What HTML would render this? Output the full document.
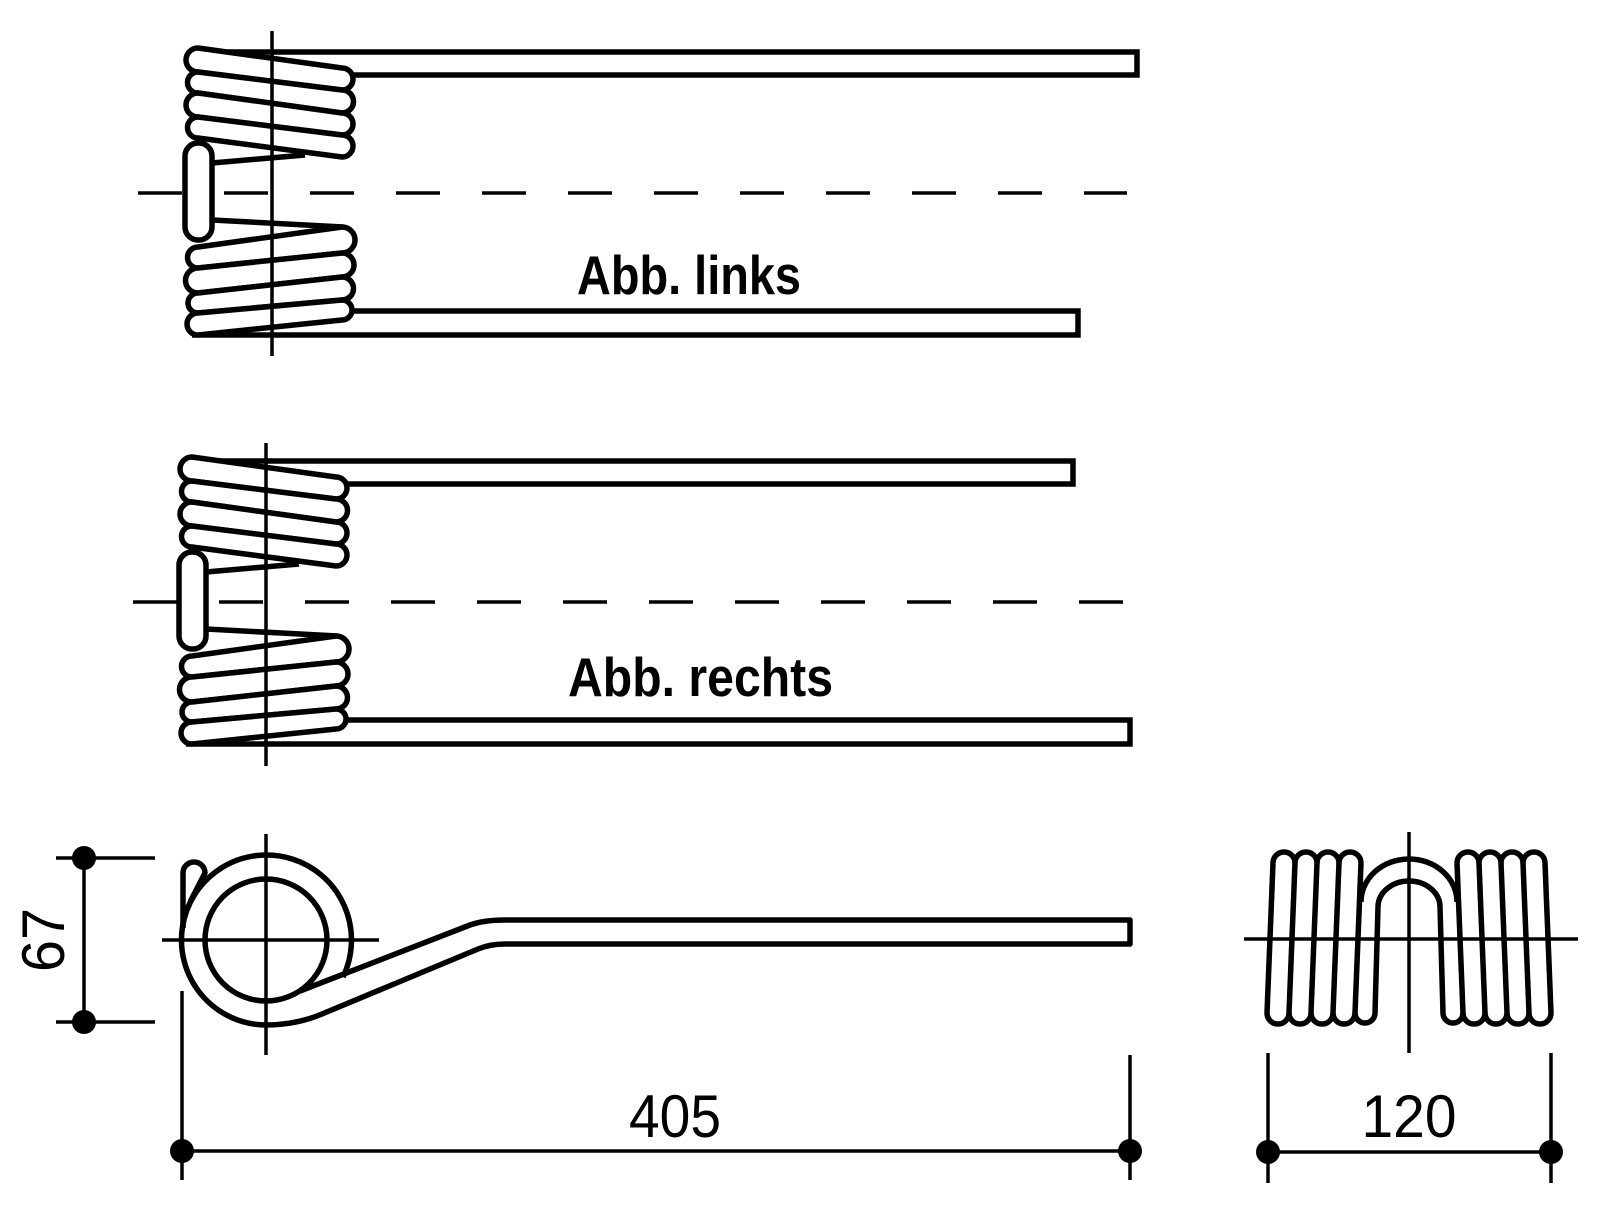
<!DOCTYPE html>
<html><head><meta charset="utf-8"><style>html,body{margin:0;padding:0;background:#fff}svg{display:block}</style></head>
<body>
<svg width="1601" height="1206" viewBox="0 0 1601 1206" xmlns="http://www.w3.org/2000/svg">
<defs>
<g id="coil" fill="#fff" stroke="#000" stroke-width="5.5" stroke-linejoin="round">
  <path d="M198,48 L342,68 A11,11 0 0 1 342,90 L198,72 A12,12 0 0 1 198,48 Z"/>
  <path d="M198,72 L342,90 A11.5,11.5 0 0 1 342,113 L198,93 A10.5,10.5 0 0 1 198,72 Z"/>
  <path d="M198,93 L342,113 A11,11 0 0 1 342,135 L198,117 A12,12 0 0 1 198,93 Z"/>
  <path d="M198,117 L342,135 A11,11 0 0 1 342,157 L198,138 A10.5,10.5 0 0 1 198,117 Z"/>
  <rect x="185" y="143" width="27" height="97" rx="13" ry="13"/>
  <path d="M212,163 L305,155" fill="none"/>
  <path d="M212,220 L343,227" fill="none"/>
  <path d="M198,247 L342,227 A13,13 0 0 1 342,253 L198,268 A10.5,10.5 0 0 1 198,247 Z"/>
  <path d="M198,268 L342,253 A12,12 0 0 1 342,277 L198,293 A12.5,12.5 0 0 1 198,268 Z"/>
  <path d="M198,293 L342,277 A11.5,11.5 0 0 1 342,300 L198,313 A10,10 0 0 1 198,293 Z"/>
  <path d="M198,313 L342,300 A10,10 0 0 1 342,320 L198,335 A11,11 0 0 1 198,313 Z"/>
</g>
<g id="half" fill="none" stroke="#000" stroke-width="5.5" stroke-linejoin="round">
  <path d="M1273,863 A11,11 0 0 1 1295,863 A11,11 0 0 1 1317,863 A11,11 0 0 1 1339,863 A11,11 0 0 1 1361,863" fill="#fff"/>
  <path d="M1273,863 L1267,1013 M1295,863 L1289,1013 M1317,863 L1311,1013 M1339,863 L1333,1013 M1361,863 L1355,1013 M1378,907 L1375,1013"/>
  <path d="M1267,1013 A11,11 0 0 0 1289,1013 A11,11 0 0 0 1311,1013 A11,11 0 0 0 1333,1013 A11,11 0 0 0 1355,1013 A10,10 0 0 0 1375,1013"/>
</g>
</defs>

<!-- TOP VIEW (links) -->
<line x1="138" y1="193" x2="1127" y2="193" stroke="#000" stroke-width="3.5" stroke-dasharray="44 42"/>
<path d="M192,52 L1137,52 L1137,75 L353,75" fill="none" stroke="#000" stroke-width="5.5"/>
<path d="M353,311 L1078,311 L1078,335 L192,335" fill="none" stroke="#000" stroke-width="5.5"/>
<use href="#coil"/>
<line x1="272" y1="31" x2="272" y2="356" stroke="#000" stroke-width="3.5"/>
<text x="577" y="294" font-family="Liberation Sans, sans-serif" font-weight="bold" font-size="55" textLength="224" lengthAdjust="spacingAndGlyphs">Abb. links</text>

<!-- MIDDLE VIEW (rechts) -->
<line x1="133" y1="602" x2="1142" y2="602" stroke="#000" stroke-width="3.5" stroke-dasharray="44 42"/>
<path d="M186,461 L1073,461 L1073,484 L347,484" fill="none" stroke="#000" stroke-width="5.5"/>
<path d="M347,720 L1130,720 L1130,744 L186,744" fill="none" stroke="#000" stroke-width="5.5"/>
<use href="#coil" transform="translate(-6,409)"/>
<line x1="266" y1="443" x2="266" y2="766" stroke="#000" stroke-width="3.5"/>
<text x="568" y="696" font-family="Liberation Sans, sans-serif" font-weight="bold" font-size="55" textLength="265" lengthAdjust="spacingAndGlyphs">Abb. rechts</text>

<!-- SIDE VIEW -->
<g fill="none" stroke="#000" stroke-width="5.5" stroke-linejoin="round">
  <path d="M266,1025 A85,85 0 1 1 343,977"/>
  <circle cx="266" cy="940" r="61"/>
  <path d="M300,991 L470,925 Q484,920 505,920 L1130,920 L1130,944 L505,944 Q490,944 478,949 L322,1014 Q296,1025 266,1025"/>
  <path d="M183,928 L183,873 A11,11 0 0 1 205,873 L190,902"/>
</g>
<line x1="162" y1="940" x2="379" y2="940" stroke="#000" stroke-width="3.5"/>
<line x1="266" y1="834" x2="266" y2="1055" stroke="#000" stroke-width="3.5"/>

<!-- dimension 67 -->
<g stroke="#000" stroke-width="3.5">
  <line x1="56" y1="858" x2="155" y2="858"/>
  <line x1="56" y1="1022" x2="155" y2="1022"/>
  <line x1="84" y1="858" x2="84" y2="1022"/>
</g>
<circle cx="84" cy="858" r="12"/>
<circle cx="84" cy="1022" r="12"/>
<text transform="translate(64,940) rotate(-90)" text-anchor="middle" font-family="Liberation Sans, sans-serif" font-size="60" textLength="64" lengthAdjust="spacingAndGlyphs">67</text>

<!-- dimension 405 -->
<g stroke="#000" stroke-width="3.5">
  <line x1="182" y1="991" x2="182" y2="1180"/>
  <line x1="1130" y1="1055" x2="1130" y2="1180"/>
  <line x1="182" y1="1151" x2="1130" y2="1151"/>
</g>
<circle cx="182" cy="1151" r="12"/>
<circle cx="1130" cy="1151" r="12"/>
<text x="675" y="1137" text-anchor="middle" font-family="Liberation Sans, sans-serif" font-size="60" textLength="92" lengthAdjust="spacingAndGlyphs">405</text>

<!-- END VIEW -->
<use href="#half"/>
<use href="#half" transform="translate(2818,0) scale(-1,1)"/>
<g fill="none" stroke="#000" stroke-width="5.5">
  <path d="M1361,902 A48,43 0 0 1 1457,902"/>
  <path d="M1378,907 A31,26 0 0 1 1440,907"/>
</g>
<line x1="1244" y1="939" x2="1578" y2="939" stroke="#000" stroke-width="3.5"/>
<line x1="1409" y1="832" x2="1409" y2="1053" stroke="#000" stroke-width="3.5"/>

<!-- dimension 120 -->
<g stroke="#000" stroke-width="3.5">
  <line x1="1268" y1="1053" x2="1268" y2="1183"/>
  <line x1="1551" y1="1053" x2="1551" y2="1183"/>
  <line x1="1268" y1="1152" x2="1551" y2="1152"/>
</g>
<circle cx="1268" cy="1152" r="12"/>
<circle cx="1551" cy="1152" r="12"/>
<text x="1409" y="1137" text-anchor="middle" font-family="Liberation Sans, sans-serif" font-size="60" textLength="95" lengthAdjust="spacingAndGlyphs">120</text>
</svg>
</body></html>
